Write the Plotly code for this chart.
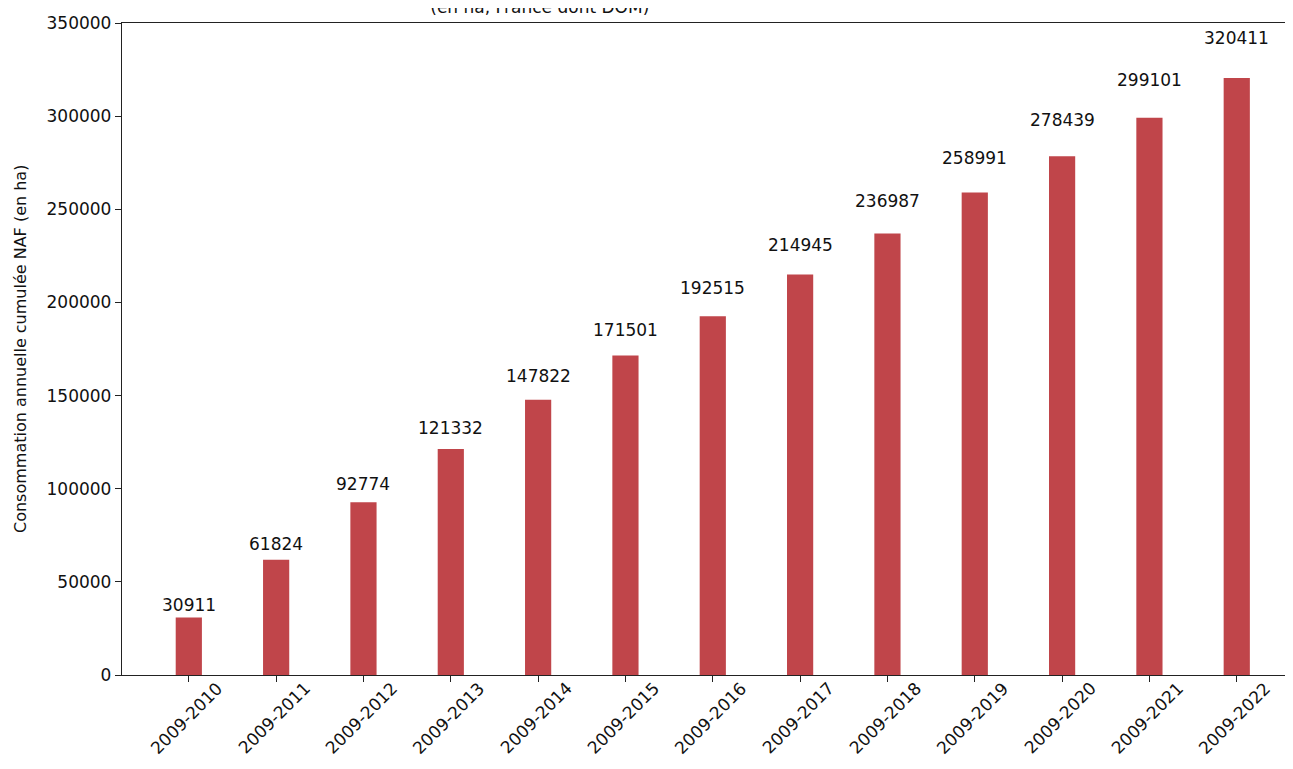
import plotly.graph_objects as go

periods = ["2009-2010", "2009-2011", "2009-2012", "2009-2013", "2009-2014", "2009-2015",
           "2009-2016", "2009-2017", "2009-2018", "2009-2019", "2009-2020", "2009-2021", "2009-2022"]
cumul_ha = [30911, 61824, 92774, 121332, 147822, 171501, 192515, 214945, 236987,
            258991, 278439, 299101, 320411]
y_ticks = [0, 50000, 100000, 150000, 200000, 250000, 300000, 350000]

FONT = "DejaVu Sans"
BAR_COLOR = "#C0454A"
TXT = "#111111"

fig = go.Figure()
fig.add_trace(go.Bar(
    x=periods, y=cumul_ha, width=0.3,
    marker=dict(color=BAR_COLOR, line=dict(width=0)),
    hoverinfo="x+y",
))

annotations = []
for p, v in zip(periods, cumul_ha):
    annotations.append(dict(
        x=p, y=v * 1.05, xref="x", yref="y", text=str(v), showarrow=False,
        xanchor="center", yanchor="bottom", yshift=-2,
        font=dict(family=FONT, size=17, color=TXT),
    ))
    annotations.append(dict(
        x=p, y=0, xref="x", yref="paper", text=p, showarrow=False,
        textangle=-45, xanchor="center", yanchor="middle", yshift=-43, xshift=-2,
        font=dict(family=FONT, size=17, color=TXT),
    ))

annotations.append(dict(
    x=0, y=0.5, xref="paper", yref="paper", xshift=-102,
    text="Consommation annuelle cumulée NAF (en ha)", showarrow=False,
    textangle=-90, xanchor="center", yanchor="middle",
    font=dict(family=FONT, size=16, color=TXT),
))
annotations.append(dict(
    x=0.357, y=1, xref="paper", yref="paper", yshift=4,
    text="Consommation d'espaces naturels, agricoles et forestiers cumulée depuis 2009<br>(en ha, France dont DOM)",
    showarrow=False, xanchor="center", yanchor="bottom", align="center",
    font=dict(family=FONT, size=17, color=TXT),
))

fig.update_layout(
    width=1285, height=753,
    margin=dict(l=114, r=0, t=15, b=86),
    paper_bgcolor="white", plot_bgcolor="white",
    showlegend=False,
    annotations=annotations,
    font=dict(family=FONT, size=17, color=TXT),
    xaxis=dict(
        type="category", categoryorder="array", categoryarray=periods,
        range=[-0.765, 12.644],
        showline=True, linecolor="#222", linewidth=1.3, mirror=True,
        ticks="outside", ticklen=6, tickcolor="#222", tickwidth=1.3,
        showticklabels=False, showgrid=False, zeroline=False,
    ),
    yaxis=dict(
        range=[0, 350000], tickvals=y_ticks, ticktext=[str(t) for t in y_ticks],
        showline=True, linecolor="#222", linewidth=1.3,
        ticks="outside", ticklen=6, tickcolor="#222", tickwidth=1.3,
        showgrid=False, zeroline=False,
        tickfont=dict(family=FONT, size=17, color=TXT),
    ),
)

fig.write_html("out.html")
